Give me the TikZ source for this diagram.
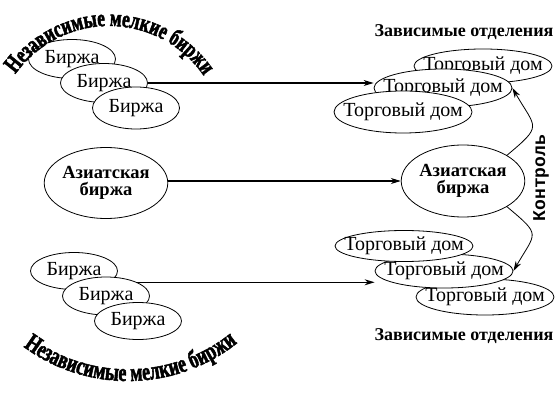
\documentclass[tikz,border=0pt]{standalone}
\usepackage{fontspec}
\setmainfont{Liberation Serif}
\newfontfamily\arcfont[FakeStretch=0.7,FakeBold=2]{Liberation Serif Bold}
\newfontfamily\ctrlfont{Liberation Mono Bold}
\usetikzlibrary{shapes.geometric,decorations.text,arrows.meta}
\newcommand{\bz}{Биржа}
\newcommand{\td}{\makebox[0pt]{Торговый дом}}
\newcommand{\zo}{Зависимые отделения}

\begin{document}
\begin{tikzpicture}[x=1pt,y=1pt,
  font=\fontsize{20}{22}\selectfont,
  >={Stealth[length=10pt,width=6pt]},
  bz/.style={ellipse,draw,fill=white,line width=0.8pt,inner sep=0pt,minimum width=87pt,minimum height=39pt},
  td/.style={ellipse,draw,fill=white,line width=0.8pt,inner sep=0pt,minimum width=138pt,minimum height=#1},
  ab/.style={ellipse,draw,line width=0.8pt,inner sep=0pt,minimum width=122pt,minimum height=71pt,align=center,font=\fontsize{18.5}{17}\selectfont\bfseries},
  zo/.style={font=\fontsize{18}{20}\selectfont\bfseries},
  arr/.style={->,line width=1.1pt}]
\useasboundingbox (0,0) rectangle (556,-403);
%\draw[help lines, color=gray!30, dashed] (0,0) grid[step=50] (556,-403);
\node[bz] (b1) at (72,-59) {\bz};
\node[bz] (b2) at (104,-83) {\bz};
\node[bz,minimum height=42pt] (b3) at (136,-108) {\bz};
\node[bz,minimum height=37pt] (b4) at (74,-271) {\bz};
\node[bz,minimum height=38pt] (b5) at (106,-296) {\bz};
\node[bz,minimum height=37pt] (b6) at (138,-321) {\bz};
\node[td=34pt] (td1) at (483,-66) {\td};
\node[td=38pt] (td2) at (443,-88) {\td};
\node[td=42pt] (td3) at (403,-112) {\td};
\node[td=36pt] (td6) at (485,-297) {\td};
\node[td=34pt] (td5) at (444,-271) {\td};
\node[td=31pt] (td4) at (404,-246) {\td};
\node[ab] (a1) at (106,-183) {Азиатская\\биржа};
\node[ab,minimum height=72pt] (a2) at (463,-181) {Азиатская\\биржа};
\node[zo] (zo1) at (464,-32) {\zo};
\node[zo] (zo2) at (464,-336) {\zo};
\node[rotate=90,font=\ctrlfont\fontsize{18}{20}\selectfont] (ctrl) at (541,-178) {Контроль};
\draw[arr] (b2.east) -- (b2.east -| td2.west);
\draw[arr] (b5.north east) -- (b5.north east -| td5.west);
\draw[arr] (a1.east |- a2) -- (a2);
\draw[->,line width=0.8pt] (a2.north east) to[out=40,in=-60,looseness=1.8] (td2.east);
\draw[->,line width=0.8pt] (a2.south east) to[out=-40,in=60,looseness=1.8] (td5.east);
\path[decorate,decoration={text along path,text align=center,text={|\arcfont\fontsize{24.5}{27}\selectfont|Независимые мелкие биржи}}] (109,-141) ++(156:115) arc[start angle=156,end angle=23,radius=115];
\path[decorate,decoration={text along path,text align=center,text={|\arcfont\fontsize{25.5}{27}\selectfont|Независимые мелкие биржи}}] (128,-205) ++(226:176) arc[start angle=226,end angle=316,radius=176];
\end{tikzpicture}
\end{document}
